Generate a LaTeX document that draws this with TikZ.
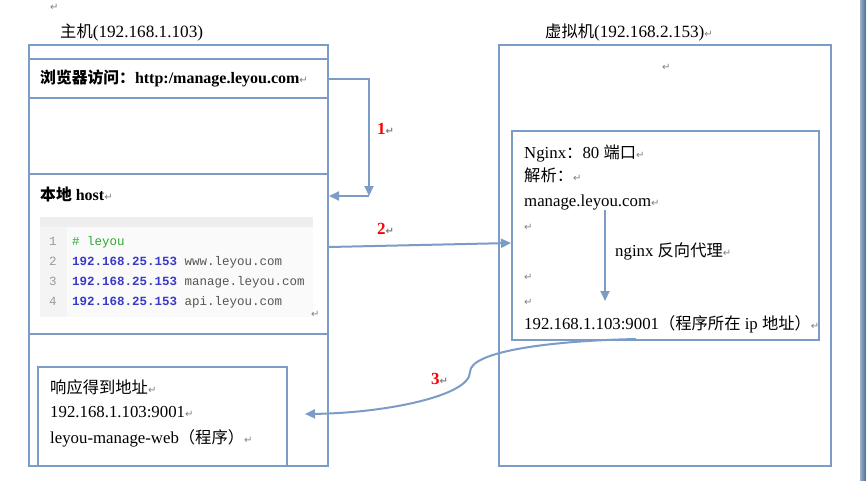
\documentclass[tikz,border=0pt]{standalone}
\usepackage{fontspec}
\setmainfont{Liberation Serif}
\setmonofont{Liberation Mono}
\newfontfamily\cjk{Noto Sans CJK SC}
\newfontfamily\dejavu{DejaVu Sans}
\usetikzlibrary{arrows.meta}
\definecolor{lineblue}{HTML}{7B9CC6}
\definecolor{pmgray}{HTML}{808080}
\definecolor{codegreen}{HTML}{2EAA2E}
\definecolor{codeblue}{HTML}{3A3AC8}
\definecolor{codegray}{HTML}{555555}
\definecolor{numgray}{HTML}{9A9A9A}
\definecolor{barlight}{HTML}{9AAFCB}
\definecolor{bardark}{HTML}{4A6A92}
\newcommand\parmark{{\dejavu\fontsize{10}{10}\selectfont\color{pmgray}↵}}
\newcommand\zh[1]{{\cjk\fontsize{16.3}{18}\selectfont #1}}
\newcommand\zhb[1]{{\cjk\bfseries\fontsize{15.8}{18}\selectfont #1}}
\begin{document}
\begin{tikzpicture}[x=1pt,y=-1pt,
  box/.style={draw=lineblue, line width=2pt, anchor=north west, inner sep=0pt},
  txt/.style={anchor=base west, inner sep=0pt, font=\fontsize{16.8}{18}\selectfont},
  codetxt/.style={anchor=base west, inner sep=0pt, font=\ttfamily\fontsize{12.5}{14}\selectfont},
  pm/.style={anchor=base west, inner sep=0pt},
  lbl/.style={anchor=base west, inner sep=0pt, font=\bfseries\fontsize{17}{18}\selectfont},
  arr/.style={draw=lineblue, line width=2pt, -{Triangle[length=10pt,width=9pt]}}
]
\useasboundingbox (0,0) rectangle (866,480);
\fill[white] (0,0) rectangle (866,480);
\shade[left color=barlight, right color=bardark] (860,0) rectangle (866,480);

% top paragraph mark and titles
\node[pm] (pm0) at (50,10) {\parmark};
\node[txt, font=\fontsize{17.2}{18}\selectfont] (t1) at (60,37) {\zh{主机}(192.168.1.103)};
\node[txt, font=\fontsize{17.2}{18}\selectfont] (t2) at (545,37) {\zh{虚拟机}(192.168.2.153)\parmark};

% left host machine
\node[box, minimum width=299pt, minimum height=421pt] (host) at (28,44) {};
\node[box, minimum width=299pt, minimum height=39pt] (browser) at (28,58) {};
\node[box, minimum width=299pt, minimum height=160pt] (hostrow) at (28,173) {};
\node[txt, font=\fontsize{16}{18}\selectfont] (btxt) at (40,83) {\zhb{浏览器访问：}\textbf{http:/manage.leyou.com}\parmark};
\node[txt, font=\fontsize{16}{18}\selectfont] (htxt) at (40,200) {\zhb{本地} \textbf{host}\parmark};

% code block
\node[anchor=north west, fill={rgb,255:red,250;green,250;blue,250}, minimum width=273pt, minimum height=100pt, inner sep=0pt] (code) at (40,217) {};
\fill[gray!13] (code.north west) rectangle ([yshift=-10pt]code.north east);
\fill[gray!9] ([yshift=-10pt]code.north west) rectangle ([xshift=27pt]code.south west);
\node[codetxt, text=numgray] (n1) at (49,245) {1};
\node[codetxt, text=numgray] (n2) at (49,265) {2};
\node[codetxt, text=numgray] (n3) at (49,285) {3};
\node[codetxt, text=numgray] (n4) at (49,305) {4};
\node[codetxt] (l1) at (72,245) {\textcolor{codegreen}{\# leyou}};
\node[codetxt] (l2) at (72,265) {\textcolor{codeblue}{\bfseries 192.168.25.153} \textcolor{codegray}{www.leyou.com}};
\node[codetxt] (l3) at (72,285) {\textcolor{codeblue}{\bfseries 192.168.25.153} \textcolor{codegray}{manage.leyou.com}};
\node[codetxt] (l4) at (72,305) {\textcolor{codeblue}{\bfseries 192.168.25.153} \textcolor{codegray}{api.leyou.com}};
\node[pm] (pm1) at (311,317) {\parmark};

% response box
\node[box, minimum width=249pt, minimum height=99pt] (resp) at (37,366) {};
\node[txt] (r1) at (50,393) {\zh{响应得到地址}\parmark};
\node[txt] (r2) at (50,417) {192.168.1.103:9001\parmark};
\node[txt] (r3) at (50,443) {leyou-manage-web\zh{（程序）}\parmark};

% right virtual machine
\node[box, minimum width=332pt, minimum height=421pt] (vm) at (498,44) {};
\node[pm] (pm2) at (662,70) {\parmark};
\node[box, minimum width=307pt, minimum height=209pt] (ngx) at (511,130) {};
\node[txt] (g1) at (524,158) {Nginx\zh{：}80 \zh{端口}\parmark};
\node[txt] (g2) at (524,181) {\zh{解析：}\parmark};
\node[txt] (g3) at (524,206) {manage.leyou.com\parmark};
\node[pm] (pm3) at (524,230) {\parmark};
\node[txt] (g4) at (615,256) {nginx \zh{反向代理}\parmark};
\node[pm] (pm4) at (524,280) {\parmark};
\node[pm] (pm5) at (524,305) {\parmark};
\node[txt] (g5) at (524,329) {192.168.1.103:9001\zh{（程序所在} ip \zh{地址）}\parmark};

% connectors
\coordinate (c1b) at (369,196);
\draw[arr] (browser.east) -| (c1b);
\draw[arr] (c1b) -- (c1b -| hostrow.east);
\node[lbl, text=red] (k1) at (377,134) {1\parmark};

\draw[arr] (hostrow.east |- 0,247) -- (ngx.west |- 0,243);
\node[lbl, text=red] (k2) at (377,234) {2\parmark};

\coordinate (g3b) at (605,210);
\coordinate (g5t) at (605,301);
\draw[arr] (g3b) -- (g5t);

\coordinate (s3) at (636,339);
\coordinate (m3) at (470,372);
\coordinate (e3) at (305,414);
\draw[arr] (s3) .. controls (545,341) and (470,352) .. (m3)
  .. controls (470,396) and (385,413) .. (e3);
\node[lbl, text=red] (k3) at (431,384) {3\parmark};
\end{tikzpicture}
\end{document}
